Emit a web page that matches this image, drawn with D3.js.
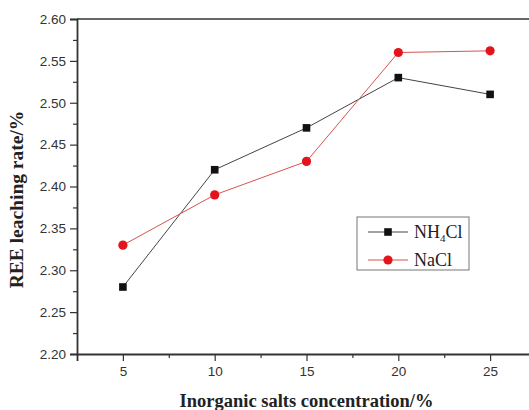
<!DOCTYPE html>
<html>
<head>
<meta charset="utf-8">
<script src="https://cdn.jsdelivr.net/npm/d3@7"></script>
<style>
  body { margin: 0; background: #fff; }
  svg { display: block; }
</style>
</head>
<body>
<div id="chart"></div>
<script>
const concentrations = [5, 10, 15, 20, 25];
const nh4clRate = [2.28, 2.42, 2.47, 2.53, 2.51];
const naclRate = [2.33, 2.39, 2.43, 2.56, 2.562];
const xTicks = [5, 10, 15, 20, 25];
const yTicks = [2.20, 2.25, 2.30, 2.35, 2.40, 2.45, 2.50, 2.55, 2.60];

const svgWidth = 529;
const svgHeight = 410;

const margin = { top: 19, right: -7, bottom: 56, left: 77 };
const width = svgWidth - margin.left - margin.right;
const height = svgHeight - margin.top - margin.bottom;

const svg = d3.select('#chart')
    .append('svg')
    .attr('width', svgWidth)
    .attr('height', svgHeight);

const g = svg.append('g')
    .attr('transform', `translate(${margin.left},${margin.top})`);

const x = d3.scaleLinear().domain([2.5, 27.5]).range([0, width]);
const y = d3.scaleLinear().domain([2.20, 2.60]).range([height, 0]);

const axisColor = '#333';
const tickFont = '"Liberation Sans", Arial, sans-serif';

// top border
g.append('line')
    .attr('x1', 0).attr('x2', width)
    .attr('y1', 0).attr('y2', 0)
    .attr('stroke', '#666')
    .attr('stroke-width', 2);

// minor ticks
const xMinor = d3.range(7.5, 27.5, 5);
const yMinor = d3.range(2.225, 2.6, 0.05);

g.append('g')
    .attr('transform', `translate(0,${height})`)
    .call(d3.axisBottom(x).tickValues(xMinor).tickSize(4).tickFormat(''))
    .call(a => a.select('.domain').remove())
    .selectAll('line').attr('stroke', axisColor).attr('stroke-width', 1.2);

const xMajor = g.append('g')
    .attr('transform', `translate(0,${height})`)
    .call(d3.axisBottom(x).tickValues(xTicks).tickSize(7).tickPadding(5).tickFormat(d3.format('d')));
xMajor.select('.domain').attr('stroke', axisColor).attr('stroke-width', 1.8);
xMajor.selectAll('line').attr('stroke', axisColor).attr('stroke-width', 1.2);
xMajor.selectAll('text')
    .attr('fill', '#333')
    .style('font-family', tickFont)
    .style('font-size', '13.5px');

g.append('g')
    .call(d3.axisLeft(y).tickValues(yMinor).tickSize(4).tickFormat(''))
    .call(a => a.select('.domain').remove())
    .selectAll('line').attr('stroke', axisColor).attr('stroke-width', 1.2);

const yMajor = g.append('g')
    .call(d3.axisLeft(y).tickValues(yTicks).tickSize(7).tickPadding(4).tickFormat(d3.format('.2f')));
yMajor.select('.domain').attr('stroke', axisColor).attr('stroke-width', 1.8);
yMajor.selectAll('line').attr('stroke', axisColor).attr('stroke-width', 1.2);
yMajor.selectAll('text')
    .attr('fill', '#333')
    .style('font-family', tickFont)
    .style('font-size', '13.5px');

// series
const series = [
    { name: 'NH4Cl', values: nh4clRate, line: '#444', fill: '#111', shape: 'square' },
    { name: 'NaCl', values: naclRate, line: '#d9534f', fill: '#e3141b', shape: 'circle' }
];

const line = d3.line()
    .x((d, i) => x(concentrations[i]))
    .y(d => y(d));

series.forEach(s => {
    g.append('path')
        .datum(s.values)
        .attr('fill', 'none')
        .attr('stroke', s.line)
        .attr('stroke-width', 1)
        .attr('d', line);

    if (s.shape === 'square') {
        g.selectAll(null)
            .data(s.values)
            .join('rect')
            .attr('x', (d, i) => x(concentrations[i]) - 3.8)
            .attr('y', d => y(d) - 3.8)
            .attr('width', 7.6)
            .attr('height', 7.6)
            .attr('fill', s.fill);
    } else {
        g.selectAll(null)
            .data(s.values)
            .join('circle')
            .attr('cx', (d, i) => x(concentrations[i]))
            .attr('cy', d => y(d))
            .attr('r', 4.6)
            .attr('fill', s.fill);
    }
});

// legend
const legend = svg.append('g').attr('transform', 'translate(357,217)');
legend.append('rect')
    .attr('width', 112).attr('height', 53)
    .attr('fill', '#fff')
    .attr('stroke', '#777')
    .attr('stroke-width', 1);

const legendRows = [
    { s: series[0], y: 15 },
    { s: series[1], y: 43 }
];
legendRows.forEach(r => {
    legend.append('line')
        .attr('x1', 11).attr('x2', 51)
        .attr('y1', r.y).attr('y2', r.y)
        .attr('stroke', r.s.line).attr('stroke-width', 1);
    if (r.s.shape === 'square') {
        legend.append('rect')
            .attr('x', 31 - 3.8).attr('y', r.y - 3.8)
            .attr('width', 7.6).attr('height', 7.6)
            .attr('fill', r.s.fill);
    } else {
        legend.append('circle')
            .attr('cx', 31).attr('cy', r.y).attr('r', 4.6)
            .attr('fill', r.s.fill);
    }
});

const serif = '"Liberation Serif", "Times New Roman", serif';

const nh4 = legend.append('text')
    .attr('x', 57).attr('y', 21)
    .style('font-family', serif)
    .style('font-size', '18px')
    .attr('fill', '#222');
nh4.append('tspan').text('NH');
nh4.append('tspan').text('4').attr('dy', 4).style('font-size', '11px');
nh4.append('tspan').text('Cl').attr('dy', -4);

legend.append('text')
    .attr('x', 57).attr('y', 49)
    .style('font-family', serif)
    .style('font-size', '18px')
    .attr('fill', '#222')
    .text('NaCl');

// axis titles
svg.append('text')
    .attr('x', margin.left + x(15))
    .attr('y', 407)
    .attr('text-anchor', 'middle')
    .style('font-family', serif)
    .style('font-weight', 'bold')
    .style('font-size', '18.5px')
    .attr('fill', '#222')
    .text('Inorganic salts concentration/%');

svg.append('text')
    .attr('transform', `translate(23,${margin.top + height / 2 + 13}) rotate(-90)`)
    .attr('text-anchor', 'middle')
    .style('font-family', serif)
    .style('font-weight', 'bold')
    .style('font-size', '19.5px')
    .attr('fill', '#222')
    .text('REE leaching rate/%');
</script>
</body>
</html>
